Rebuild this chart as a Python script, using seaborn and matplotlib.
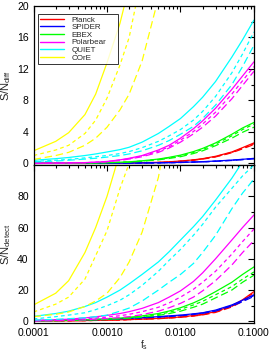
import matplotlib
matplotlib.use('Agg')
import matplotlib.pyplot as plt
import seaborn as sns
import numpy as np
import pandas as pd
from matplotlib.ticker import MultipleLocator, FormatStrFormatter, LogLocator, NullFormatter
from matplotlib.lines import Line2D

# sampled f_s values
fs = [1e-4, 2e-4, 3e-4, 5e-4, 7e-4, 1e-3, 1.5e-3, 2e-3, 3e-3,
      5e-3, 7e-3, 1e-2, 1.5e-2, 2e-2, 3e-2, 5e-2, 7e-2, 1e-1]
experiments = ['Planck', 'SPIDER', 'EBEX', 'Polarbear', 'QUIET', 'COrE']
colors = ['#ff0000', '#0000ff', '#00ff00', '#ff00ff', '#00ffff', '#ffff00']
kinds = ['solid', 'dashA', 'dashB']

# S/N_diff (top panel): solid, dashed A, dashed B per experiment
planck_diff = [[0, 0.005, 0.007, 0.01, 0.02, 0.03, 0.045, 0.06, 0.09, 0.13, 0.2, 0.3, 0.45, 0.6, 0.9, 1.45, 2.0, 2.6],
               [0, 0.005, 0.007, 0.01, 0.02, 0.03, 0.04, 0.055, 0.085, 0.12, 0.19, 0.28, 0.43, 0.57, 0.86, 1.4, 1.92, 2.5],
               [0, 0.004, 0.006, 0.01, 0.015, 0.025, 0.04, 0.05, 0.08, 0.11, 0.18, 0.26, 0.4, 0.54, 0.82, 1.35, 1.85, 2.4]]
spider_diff = [[0, 0.005, 0.007, 0.01, 0.015, 0.02, 0.03, 0.04, 0.055, 0.08, 0.1, 0.13, 0.18, 0.22, 0.3, 0.42, 0.52, 0.64],
               [0, 0.004, 0.006, 0.01, 0.014, 0.02, 0.028, 0.035, 0.05, 0.07, 0.09, 0.12, 0.17, 0.2, 0.28, 0.4, 0.5, 0.6],
               [0, 0.004, 0.006, 0.008, 0.012, 0.018, 0.025, 0.03, 0.045, 0.065, 0.085, 0.11, 0.16, 0.19, 0.26, 0.37, 0.47, 0.57]]
ebex_diff = [[0.01, 0.02, 0.03, 0.05, 0.07, 0.1, 0.15, 0.2, 0.33, 0.55, 0.77, 1.05, 1.5, 1.9, 2.6, 3.7, 4.5, 5.2],
             [0.01, 0.02, 0.03, 0.045, 0.065, 0.09, 0.13, 0.18, 0.3, 0.5, 0.7, 0.95, 1.38, 1.75, 2.45, 3.5, 4.3, 5.0],
             [0.01, 0.015, 0.025, 0.04, 0.06, 0.08, 0.12, 0.16, 0.27, 0.45, 0.63, 0.85, 1.25, 1.6, 2.25, 3.2, 3.95, 4.6]]
polarbear_diff = [[0.02, 0.04, 0.06, 0.1, 0.16, 0.25, 0.45, 0.65, 1.0, 1.7, 2.3, 3.2, 4.4, 5.4, 7.0, 9.4, 11.1, 12.9],
                  [0.02, 0.035, 0.055, 0.09, 0.15, 0.23, 0.42, 0.6, 0.93, 1.55, 2.1, 2.95, 4.05, 5.0, 6.5, 8.8, 10.5, 12.3],
                  [0.015, 0.03, 0.05, 0.08, 0.13, 0.2, 0.38, 0.55, 0.85, 1.4, 1.95, 2.7, 3.75, 4.6, 6.0, 8.2, 9.9, 11.7]]
quiet_diff = [[0.4, 0.6, 0.75, 1.0, 1.2, 1.45, 1.75, 2.05, 2.7, 3.8, 4.7, 5.7, 7.2, 8.4, 10.4, 13.5, 15.7, 18.2],
              [0.25, 0.4, 0.5, 0.7, 0.85, 1.0, 1.25, 1.5, 2.0, 2.8, 3.5, 4.3, 5.5, 6.6, 8.5, 11.5, 13.9, 16.7],
              [0.2, 0.3, 0.4, 0.55, 0.65, 0.8, 1.0, 1.2, 1.6, 2.3, 2.9, 3.7, 4.7, 5.7, 7.4, 10.0, 12.3, 15.0]]
core_diff = [[1.6, 2.8, 3.9, 6.2, 8.8, 12.8, 17.8, 22.5, 32, 50, 68, 90, 125, 160, 230, 350, 460, 600],
             [1.0, 1.7, 2.3, 3.8, 5.5, 8.3, 12.5, 16, 24, 40, 55, 75, 100, 130, 190, 290, 390, 500],
             [0.5, 1.0, 1.4, 2.3, 3.2, 4.6, 6.8, 8.8, 13, 21, 30, 45, 65, 85, 125, 190, 260, 350]]

# S/N_detect (bottom panel)
planck_det = [[0.2, 0.3, 0.4, 0.5, 0.65, 0.8, 1.0, 1.2, 1.5, 1.9, 2.3, 2.8, 3.7, 4.5, 6.2, 10, 13.8, 19],
              [0.2, 0.3, 0.4, 0.5, 0.6, 0.8, 0.95, 1.1, 1.4, 1.8, 2.2, 2.7, 3.5, 4.3, 6.0, 9.6, 13.3, 18.4],
              [0.2, 0.3, 0.35, 0.45, 0.6, 0.75, 0.9, 1.1, 1.35, 1.7, 2.1, 2.6, 3.4, 4.1, 5.7, 9.2, 12.8, 17.8]]
spider_det = [[0.5, 0.7, 0.8, 1.0, 1.2, 1.4, 1.7, 2.0, 2.4, 3.0, 3.5, 4.0, 4.8, 5.5, 7.2, 10.5, 13.5, 17],
              [0.45, 0.65, 0.75, 0.95, 1.1, 1.3, 1.6, 1.9, 2.3, 2.8, 3.3, 3.8, 4.6, 5.3, 6.9, 10.1, 13, 16.5],
              [0.4, 0.6, 0.7, 0.9, 1.05, 1.25, 1.5, 1.8, 2.2, 2.7, 3.1, 3.6, 4.4, 5.1, 6.6, 9.8, 12.6, 16]]
ebex_det = [[0.3, 0.5, 0.7, 1.0, 1.3, 1.6, 2.1, 2.6, 3.5, 5.0, 6.6, 8.7, 11.8, 14.5, 19, 25, 30, 34.8],
            [0.27, 0.45, 0.6, 0.9, 1.15, 1.4, 1.85, 2.3, 3.1, 4.4, 5.8, 7.7, 10.5, 12.8, 17, 22.2, 27, 31.6],
            [0.2, 0.4, 0.55, 0.8, 1.0, 1.2, 1.6, 2.0, 2.7, 3.8, 5.0, 6.5, 9, 11, 15, 20, 25, 29.5]]
polarbear_det = [[0.5, 1.0, 1.4, 2.2, 2.9, 3.8, 5.0, 6.2, 8.3, 12, 15.5, 19.5, 25.5, 31, 40, 52, 60, 68],
                 [0.3, 0.7, 1.0, 1.5, 2.1, 2.7, 3.6, 4.5, 6.2, 9, 11.8, 15.5, 20.5, 25, 32, 43, 51, 59],
                 [0.2, 0.4, 0.6, 1.0, 1.4, 1.8, 2.4, 3.0, 4.3, 6.5, 8.7, 11.5, 15.5, 19.5, 26, 36, 44, 51.7]]
quiet_det = [[3.2, 5, 6.5, 9.5, 12, 15.5, 20, 24, 30, 38, 44.5, 52, 60.5, 67, 77.5, 91.5, 102, 113],
             [1.5, 3, 4, 5.5, 7.5, 10, 13.5, 17, 23, 32, 39, 46, 55, 62, 73, 85, 93, 100],
             [0.8, 1.3, 1.7, 2.3, 3, 4, 6.5, 8.5, 13, 20, 25, 30, 37, 44, 55, 72, 82, 91]]
core_det = [[10.5, 18, 26, 44, 60, 80, 108, 135, 190, 300, 380, 500, 650, 800, 1100, 1500, 1900, 2500],
            [6, 11, 15.5, 27, 42, 58, 85, 101, 140, 220, 290, 400, 550, 700, 950, 1300, 1700, 2200],
            [3, 4.5, 6, 9.5, 13, 18, 28, 38, 57, 92, 130, 200, 290, 380, 550, 800, 1050, 1400]]

diff_all = [planck_diff, spider_diff, ebex_diff, polarbear_diff, quiet_diff, core_diff]
det_all = [planck_det, spider_det, ebex_det, polarbear_det, quiet_det, core_det]


def to_long(curves):
    rows = []
    for name, sets in zip(experiments, curves):
        for kind, vals in zip(kinds, sets):
            for f, v in zip(fs, vals):
                rows.append({'f': f, 'sn': v, 'exp': name, 'kind': kind})
    return pd.DataFrame(rows)


sns.set_style('white')
plt.rcParams['font.family'] = ['Liberation Sans', 'DejaVu Sans']
plt.rcParams['mathtext.fontset'] = 'custom'
plt.rcParams['mathtext.rm'] = 'Liberation Sans'
plt.rcParams['mathtext.it'] = 'Liberation Sans'

palette = dict(zip(experiments, colors))
dash_map = {'solid': '', 'dashA': (3, 2.5), 'dashB': (6, 3)}

fig = plt.figure(figsize=(2.71, 3.51), dpi=100)
ax1 = fig.add_axes([0.124, 0.530, 0.813, 0.453])
ax2 = fig.add_axes([0.124, 0.080, 0.813, 0.450])

for ax, data in [(ax1, diff_all), (ax2, det_all)]:
    sns.lineplot(data=to_long(data), x='f', y='sn', hue='exp', style='kind',
                 hue_order=experiments, style_order=kinds, palette=palette,
                 dashes=dash_map, estimator=None, legend=False, linewidth=0.9, ax=ax)
    ax.set_xscale('log')
    ax.set_xlim(1e-4, 0.1)
    ax.xaxis.set_major_locator(LogLocator(base=10, numticks=10))
    ax.xaxis.set_minor_locator(LogLocator(base=10, subs=np.arange(2, 10), numticks=10))
    ax.xaxis.set_minor_formatter(NullFormatter())
    ax.tick_params(which='both', direction='in', top=True, right=True, labelsize=7.5,
                   width=0.8, colors='black')
    ax.tick_params(which='major', length=4)
    ax.tick_params(which='minor', length=2.5)
    for s in ax.spines.values():
        s.set_linewidth(0.9)
        s.set_color('black')
    ax.set_xlabel('')

ax1.set_ylim(-0.2, 20)
ax1.yaxis.set_major_locator(MultipleLocator(4))
ax1.yaxis.set_minor_locator(MultipleLocator(2))
ax1.set_xticklabels([])
ax1.set_ylabel(r'S/N$_{\mathrm{diff}}$', fontsize=8, labelpad=3)

ax2.set_ylim(-1, 100)
ax2.yaxis.set_major_locator(MultipleLocator(20))
ax2.yaxis.set_minor_locator(MultipleLocator(10))
ax2.set_yticks([0, 20, 40, 60, 80])
ax2.xaxis.set_major_formatter(FormatStrFormatter('%.4f'))
ax2.set_ylabel(r'S/N$_{\mathrm{detect}}$', fontsize=8, labelpad=3)
ax2.set_xlabel(r'f$_{\mathrm{s}}$', fontsize=7, labelpad=0.5)

handles = [Line2D([], [], color=c, lw=1) for c in colors]
leg = ax1.legend(handles, experiments, loc='upper left',
                 bbox_to_anchor=(0.02, 0.6, 0.363, 0.35), mode='expand',
                 borderaxespad=0, fontsize=5.8, handlelength=3.0, labelspacing=0.0,
                 fancybox=False, frameon=True, edgecolor='black', borderpad=0.25,
                 handletextpad=0.9)
leg.get_frame().set_linewidth(0.7)

fig.savefig('out.png', dpi=100)
